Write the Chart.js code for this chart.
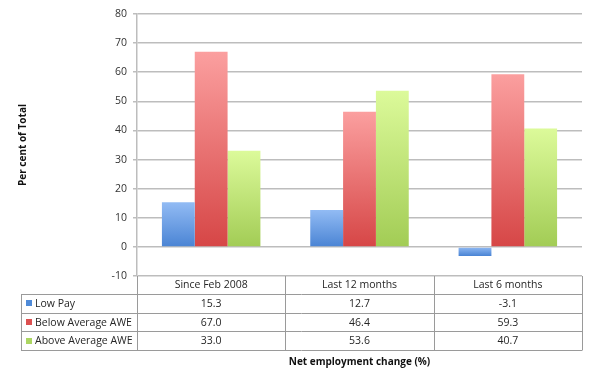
<!DOCTYPE html>
<html>
<head>
<meta charset="utf-8">
<script src="https://cdn.jsdelivr.net/npm/chart.js@4.4.1/dist/chart.umd.min.js"></script>
<style>
  html, body { margin: 0; padding: 0; background: #fff; }
  #wrap { width: 595px; height: 381px; position: relative; }
</style>
</head>
<body>
<div id="wrap"><canvas id="c" width="595" height="381"></canvas></div>
<script>
const categories = ["Since Feb 2008", "Last 12 months", "Last 6 months"];
const seriesNames = ["Low Pay", "Below Average AWE", "Above Average AWE"];
const lowPay = [15.3, 12.7, -3.1];
const belowAvgAWE = [67.0, 46.4, 59.3];
const aboveAvgAWE = [33.0, 53.6, 40.7];
const yTicks = [-10, 0, 10, 20, 30, 40, 50, 60, 70, 80];

const FONT = "'Open Sans', 'DejaVu Sans', sans-serif";
const palettes = [
  { top: "#92bbf4", bottom: "#4a84d4", swatch: "#4f8ad8" },
  { top: "#fb9f9f", bottom: "#d64646", swatch: "#dc5050" },
  { top: "#dcfa9a", bottom: "#a2cc55", swatch: "#acd662" }
];

function gradientFor(idx) {
  return function (ctx) {
    const chart = ctx.chart;
    const ys = chart.scales && chart.scales.y;
    if (!chart.chartArea || !ys || ctx.type !== 'data') return palettes[idx].bottom;
    const v = ctx.raw;
    const p0 = ys.getPixelForValue(0);
    const p1 = ys.getPixelForValue(v);
    const top = Math.min(p0, p1), bot = Math.max(p0, p1);
    const g = chart.ctx.createLinearGradient(0, top, 0, bot + 0.01);
    g.addColorStop(0, palettes[idx].top);
    g.addColorStop(1, palettes[idx].bottom);
    return g;
  };
}

const seriesData = [lowPay, belowAvgAWE, aboveAvgAWE];

const tablePlugin = {
  id: 'dataTable',
  afterDraw(chart) {
    const ctx = chart.ctx;
    const ca = chart.chartArea;
    const xs = chart.scales.x;
    const left = 21;
    const top = ca.bottom;
    const rowH = [18, 18.7, 18.7, 18.6];
    const rowY = [top];
    for (let i = 0; i < rowH.length; i++) rowY.push(rowY[i] + rowH[i]);
    const colEdges = [ca.left];
    const n = categories.length;
    const w = (ca.right - ca.left) / n;
    for (let i = 1; i <= n; i++) colEdges.push(ca.left + w * i);

    ctx.save();
    ctx.strokeStyle = "#9a9a9a";
    ctx.lineWidth = 1;
    ctx.beginPath();
    // horizontal lines
    for (let r = 1; r < rowY.length; r++) {
      const y = Math.round(rowY[r]) + 0.5;
      ctx.moveTo(left, y); ctx.lineTo(ca.right, y);
    }
    // vertical lines in data part
    for (let c = 0; c < colEdges.length; c++) {
      const x = Math.round(colEdges[c]) + 0.5;
      ctx.moveTo(x, top); ctx.lineTo(x, Math.round(rowY[rowY.length - 1]) + 0.5);
    }
    // left box edge
    const lx = left + 0.5;
    ctx.moveTo(lx, Math.round(rowY[1]) + 0.5); ctx.lineTo(lx, Math.round(rowY[rowY.length - 1]) + 0.5);
    ctx.stroke();

    ctx.fillStyle = "#262626";
    ctx.font = "10.5px " + FONT;
    ctx.textBaseline = "middle";
    ctx.textAlign = "center";
    for (let c = 0; c < n; c++) {
      const cx = xs.getPixelForValue(c);
      ctx.fillText(categories[c], cx, (rowY[0] + rowY[1]) / 2 + 0.5);
      for (let s = 0; s < seriesData.length; s++) {
        ctx.fillText(seriesData[s][c].toFixed(1), cx, (rowY[s + 1] + rowY[s + 2]) / 2 + 0.5);
      }
    }
    ctx.textAlign = "left";
    for (let s = 0; s < seriesNames.length; s++) {
      const cy = (rowY[s + 1] + rowY[s + 2]) / 2;
      ctx.fillStyle = palettes[s].swatch;
      ctx.fillRect(26, Math.round(cy) - 3, 6, 6);
      ctx.fillStyle = "#262626";
      ctx.fillText(seriesNames[s], 35, cy + 0.5);
    }
    // x-axis title
    ctx.font = "bold 10px " + FONT;
    ctx.fillStyle = "#111";
    ctx.textAlign = "center";
    ctx.fillText("Net employment change (%)", (ca.left + ca.right) / 2, 362);
    ctx.restore();
  }
};

new Chart(document.getElementById('c'), {
  type: 'bar',
  data: {
    labels: categories,
    datasets: seriesNames.map((name, i) => ({
      label: name,
      data: seriesData[i],
      backgroundColor: gradientFor(i),
      borderWidth: 0,
      categoryPercentage: 0.664,
      barPercentage: 1.0
    }))
  },
  options: {
    responsive: false,
    animation: false,
    devicePixelRatio: 1,
    layout: { padding: { top: 14, right: 13, bottom: 105, left: 0 } },
    plugins: { legend: { display: false }, tooltip: { enabled: false } },
    scales: {
      x: { display: false },
      y: {
        min: -10, max: 80,
        afterBuildTicks(scale) { scale.ticks = yTicks.map(v => ({ value: v })); },
        afterFit(scale) { scale.width = 137; },
        ticks: { color: "#333", font: { family: FONT, size: 10.5 }, padding: 6 },
        grid: { color: "#bdbdbd", lineWidth: 1.5, tickLength: 4 },
        border: { color: "#bdbdbd", width: 1.5 },
        title: {
          display: true, text: "Per cent of Total", color: "#111",
          font: { family: FONT, size: 10, weight: 'bold' },
          padding: { top: 17, bottom: 0 }
        }
      }
    }
  },
  plugins: [tablePlugin]
});
</script>
</body>
</html>
